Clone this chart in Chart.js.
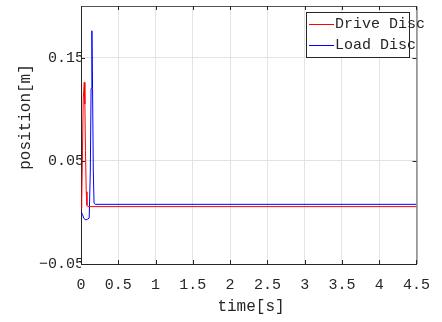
<!DOCTYPE html>
<html lang="en">
<head>
    <meta charset="UTF-8">
    <title>Drive / Load Disc position</title>
    <script src="https://cdn.jsdelivr.net/npm/chart.js"></script>
    <style>
        html, body { margin: 0; padding: 0; background: #ffffff; }
        .canvas-container { width: 442px; height: 322px; }
    </style>
</head>
<body>
    <div class="canvas-container">
        <canvas id="posChart"></canvas>
    </div>

    <script>
        // values
        const driveTime = [0, 0.01, 0.02, 0.03, 0.044, 0.052, 0.06, 0.07, 0.08, 0.09, 4.5];
        const drivePos  = [0.004, 0.012, 0.06, 0.11, 0.126, 0.105, 0.06, 0.02, 0.007, 0.0056, 0.0056];
        const loadTime = [0, 0.02, 0.04, 0.066, 0.09, 0.11, 0.125, 0.135, 0.146, 0.155, 0.165, 0.175, 0.19, 4.5];
        const loadPos  = [0.001, -0.002, -0.006, -0.0073, -0.0065, -0.0055, 0.04, 0.12, 0.176, 0.12, 0.04, 0.009, 0.0078, 0.0078];
        const xTicks = [0, 0.5, 1, 1.5, 2, 2.5, 3, 3.5, 4, 4.5];
        const yTicks = [-0.05, 0.05, 0.15];

        const fontFam = "'Liberation Mono', 'DejaVu Sans Mono', monospace";
        const textCol = "#262626";

        const frame = {
            id: "frame",
            afterDraw(chart) {
                const { ctx, chartArea: a } = chart;
                ctx.save();
                // top and right border
                ctx.strokeStyle = "#555555";
                ctx.lineWidth = 1;
                ctx.beginPath();
                ctx.moveTo(a.left, a.top + 0.5);
                ctx.lineTo(a.right + 0.5, a.top + 0.5);
                ctx.lineTo(a.right + 0.5, a.bottom);
                ctx.stroke();
                // inward tick marks
                ctx.strokeStyle = "#262626";
                const xs = chart.scales.x;
                xTicks.forEach(v => {
                    const px = Math.round(xs.getPixelForValue(v)) + 0.5;
                    ctx.beginPath();
                    ctx.moveTo(px, a.bottom); ctx.lineTo(px, a.bottom - 4);
                    ctx.moveTo(px, a.top); ctx.lineTo(px, a.top + 4);
                    ctx.stroke();
                });
                const ys = chart.scales.y;
                yTicks.forEach(v => {
                    const py = Math.round(ys.getPixelForValue(v)) + 0.5;
                    ctx.beginPath();
                    ctx.moveTo(a.left, py); ctx.lineTo(a.left + 4, py);
                    ctx.moveTo(a.right, py); ctx.lineTo(a.right - 4, py);
                    ctx.stroke();
                });
                // axis titles
                ctx.fillStyle = textCol;
                ctx.font = "16px " + fontFam;
                ctx.textAlign = "center";
                ctx.textBaseline = "middle";
                ctx.fillText("time[s]", 251, 307);
                ctx.translate(26, 117);
                ctx.rotate(-Math.PI / 2);
                ctx.fillText("position[m]", 0, 0);
                ctx.restore();

                // legend box
                ctx.save();
                ctx.fillStyle = "#ffffff";
                ctx.fillRect(306, 12, 103, 45);
                ctx.strokeStyle = "#262626";
                ctx.strokeRect(306.5, 12.5, 103, 45);
                ctx.font = "15px " + fontFam;
                ctx.textBaseline = "middle";
                ctx.textAlign = "left";
                chart.data.datasets.forEach((ds, i) => {
                    const y = 24.5 + i * 21;
                    ctx.strokeStyle = ds.borderColor;
                    ctx.beginPath();
                    ctx.moveTo(309, y); ctx.lineTo(334, y);
                    ctx.stroke();
                    ctx.fillStyle = textCol;
                    ctx.fillText(ds.label, 335, y);
                });
                ctx.restore();
            }
        };

        new Chart(document.getElementById("posChart"), {
            type: "line",
            data: {
                datasets: [
                    {
                        label: "Drive Disc",
                        data: driveTime.map((t, i) => ({ x: t, y: drivePos[i] })),
                        borderColor: "#ff0000",
                        borderWidth: 1,
                        pointRadius: 0,
                        tension: 0
                    },
                    {
                        label: "Load Disc",
                        data: loadTime.map((t, i) => ({ x: t, y: loadPos[i] })),
                        borderColor: "#0000ff",
                        borderWidth: 1,
                        pointRadius: 0,
                        tension: 0
                    }
                ]
            },
            options: {
                responsive: true,
                maintainAspectRatio: false,
                animation: false,
                layout: { padding: { top: 2, right: 22, left: 0, bottom: 0 } },
                plugins: { legend: { display: false }, tooltip: { enabled: false } },
                scales: {
                    x: {
                        type: "linear",
                        min: 0, max: 4.5,
                        afterBuildTicks: s => { s.ticks = xTicks.map(v => ({ value: v })); },
                        afterFit: s => { s.height = 58; },
                        grid: { color: "#e3e3e3", drawTicks: false },
                        border: { color: "#262626" },
                        ticks: {
                            color: textCol, padding: 12, maxRotation: 0, autoSkip: false,
                            font: { family: fontFam, size: 15 },
                            callback: v => String(v)
                        }
                    },
                    y: {
                        min: -0.05, max: 0.2,
                        afterBuildTicks: s => { s.ticks = yTicks.map(v => ({ value: v })); },
                        afterFit: s => { s.width = 81; },
                        grid: { color: "#e3e3e3", drawTicks: false },
                        border: { color: "#262626" },
                        ticks: {
                            color: textCol, padding: -3, autoSkip: false,
                            font: { family: fontFam, size: 15 },
                            callback: v => String(Math.round(v * 100) / 100).replace("-", "\u2212")
                        }
                    }
                }
            },
            plugins: [frame]
        });
    </script>
</body>
</html>
